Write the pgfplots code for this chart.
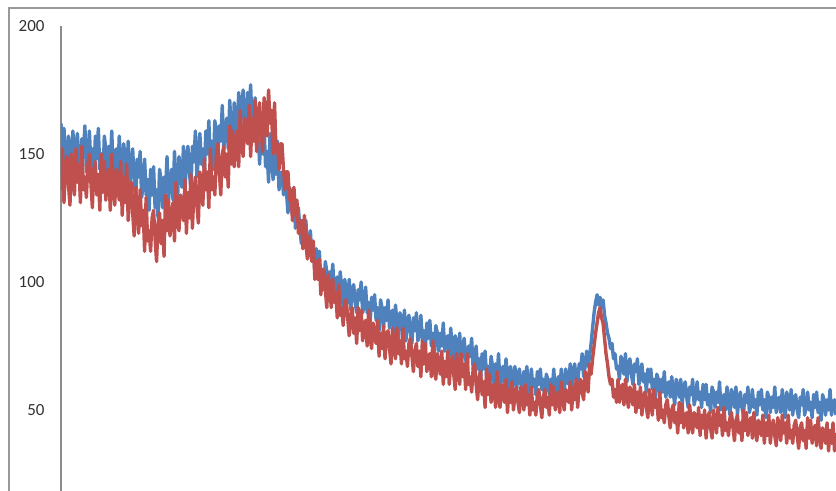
\documentclass[border=0pt]{standalone}
\usepackage{fontspec}
\setmainfont{Carlito}
\usepackage{pgfplots}
\pgfplotsset{compat=1.18}
\usepackage{pgfplotstable}
\definecolor{xlblue}{HTML}{4F81BD}
\definecolor{xlred}{HTML}{C0504D}
\pgfplotstableread{
b r
162 136
142 152
160 131
148 144
139 149
157 138
151 130
144 150
159 143
141 134
153 152
158 139
147 146
140 131
156 153
150 136
161 141
143 133
149 146
159 150
146 139
152 129
141 144
157 147
148 134
160 142
144 128
150 150
138 135
157 147
152 132
141 140
153 144
145 128
159 150
141 136
148 130
152 144
140 138
157 132
145 147
136 126
154 141
148 131
140 146
155 124
136 135
147 139
152 127
140 118
132 137
148 129
141 119
151 136
133 122
138 128
148 112
134 133
140 116
128 120
144 112
134 125
145 128
129 117
136 108
125 123
144 127
140 115
129 124
141 110
135 134
149 120
132 132
139 118
144 126
132 131
151 116
139 139
131 125
149 120
144 134
137 129
153 124
135 140
148 119
153 135
143 125
136 142
153 121
147 135
159 141
141 130
148 123
158 143
146 137
152 130
142 148
159 136
150 143
163 129
148 152
155 136
144 141
163 134
159 149
149 154
161 143
155 134
169 150
152 153
159 141
164 150
152 137
171 161
160 146
151 159
170 145
165 154
158 159
174 145
157 167
169 154
175 149
164 164
157 158
174 154
168 169
177 149
160 164
164 155
172 171
156 151
160 164
146 170
160 159
150 151
161 172
145 165
151 157
139 175
158 162
152 167
140 150
151 170
142 151
155 154
136 144
142 154
143 154
134 144
143 136
135 143
127 143
137 132
132 136
126 124
134 137
121 126
127 132
129 119
120 123
115 124
124 113
119 126
124 115
112 109
114 118
120 113
110 108
112 116
104 101
113 108
106 101
112 109
101 95
105 103
97 105
108 97
104 90
97 103
104 97
99 90
107 101
96 92
99 96
102 86
93 99
104 87
97 90
90 83
101 92
97 93
92 86
101 79
89 87
97 90
99 80
92 86
88 76
97 90
93 81
100 89
88 77
91 83
98 85
88 75
92 89
84 78
94 74
89 84
95 79
85 76
90 85
81 71
93 80
90 74
82 83
90 70
85 79
93 81
82 74
86 68
89 82
80 76
91 70
84 82
77 72
88 77
85 68
80 82
89 70
77 73
85 67
87 76
80 78
76 71
86 65
81 73
88 76
77 67
80 73
87 63
77 77
81 68
74 76
84 65
78 70
85 72
75 63
80 77
71 66
83 62
80 72
73 68
80 64
75 73
84 60
73 69
77 63
79 73
71 60
82 68
74 71
68 64
79 58
75 72
70 66
80 60
67 72
75 63
78 68
70 58
66 72
75 60
71 63
78 57
66 66
69 68
75 60
66 54
70 63
62 65
72 56
66 61
73 51
63 66
67 56
59 64
71 53
67 58
60 60
68 51
63 65
72 55
60 51
64 60
67 56
59 53
70 62
63 49
57 58
67 53
64 61
60 50
67 56
57 59
64 53
66 49
60 59
57 55
65 50
61 60
67 52
57 56
60 48
66 59
59 50
62 53
56 48
65 56
60 58
66 52
58 47
62 55
54 58
64 51
62 55
56 48
62 60
58 52
66 59
56 50
60 55
63 57
57 49
66 61
61 54
56 50
66 58
63 56
60 53
68 61
58 50
65 59
68 54
62 62
59 51
68 59
66 62
72 57
63 54
67 65
73 62
67 57
71 68
76 64
82 70
88 75
92 80
95 84
91 88
94 90
90 86
93 84
87 78
84 72
80 68
78 63
74 60
76 62
70 55
72 58
66 53
67 62
62 53
71 58
68 60
64 52
72 62
61 55
68 51
70 59
64 56
60 52
68 60
65 49
70 57
60 51
63 59
68 48
61 55
64 57
57 51
66 47
61 58
66 53
58 48
62 58
54 51
64 54
62 46
56 57
62 47
57 50
65 45
55 52
59 54
61 48
55 43
63 50
57 52
52 45
62 49
59 41
55 53
62 45
52 52
59 43
61 47
55 49
51 41
59 52
56 45
62 41
52 49
55 46
61 43
54 51
57 40
51 48
60 43
54 50
60 39
52 46
56 49
49 43
59 39
57 50
51 46
57 41
53 51
61 44
50 48
54 40
56 51
50 42
59 45
53 40
48 47
58 49
55 43
51 38
59 46
48 48
55 41
57 45
51 38
48 50
56 42
53 49
59 40
49 45
52 47
58 39
51 49
54 42
48 38
57 46
52 43
58 40
50 48
54 37
47 45
57 40
55 48
49 37
55 43
51 46
59 40
49 36
53 47
55 43
49 38
58 48
52 41
47 45
57 37
54 48
50 39
58 42
48 37
54 44
56 46
50 40
47 35
55 43
52 45
58 38
48 42
51 35
57 47
50 39
53 46
47 37
56 42
51 44
57 36
49 47
53 40
46 35
56 43
54 40
48 37
54 45
50 34
58 42
48 37
52 45
54 34
48 41
}\data
\begin{document}
\begin{tikzpicture}
\useasboundingbox (0,0) rectangle (418pt,245.5pt);
\draw[black!40, line width=0.6pt] (4.5pt,-2pt) -- (4.5pt,241.5pt) -- (422pt,241.5pt);
\begin{axis}[at={(30.5pt,0pt)}, anchor=south west, scale only axis,
  width=387.5pt, height=232.5pt,
  xmin=0, xmax=519, ymin=18.36, ymax=200,
  axis x line=none, axis y line*=left,
  axis line style={black!45, line width=0.6pt, -},
  ytick={50,100,150,200}, major tick length=0pt,
  yticklabel style={font=\fontsize{8.5}{10}\selectfont, text=black!80, inner sep=0pt, xshift=-8pt},
  /pgf/number format/assume math mode=true,
  clip=true]
\addplot[xlblue, line width=1.7pt, line join=round, no markers] table[x expr=\coordindex, y=b]{\data};
\addplot[xlred, line width=1.7pt, line join=round, no markers] table[x expr=\coordindex, y=r]{\data};
\end{axis}
\end{tikzpicture}
\end{document}
